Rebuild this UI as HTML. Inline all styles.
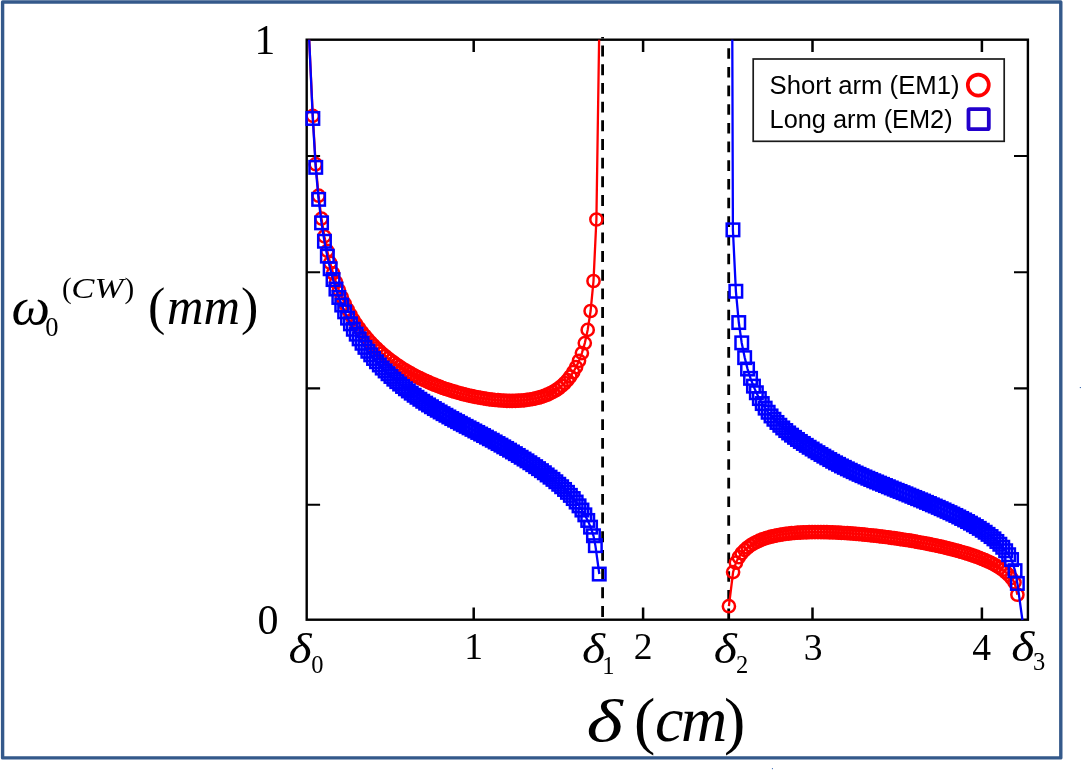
<!DOCTYPE html>
<html lang="en">
<head>
<meta charset="utf-8">
<title>Beam waist vs delta</title>
<style>
html,body{margin:0;padding:0;background:#fff;}
body{width:1081px;height:770px;overflow:hidden;position:relative;}
svg{position:absolute;left:0;top:0;display:block;}
.ser{font-family:"Liberation Serif","DejaVu Serif",serif;fill:#000;}
.it{font-style:italic;}
.san{font-family:"Liberation Sans","DejaVu Sans",sans-serif;fill:#000;}
</style>
</head>
<body>
<svg width="1081" height="770" viewBox="0 0 1081 770">
<defs>
<clipPath id="plot"><rect x="306.7" y="38.5" width="721.2" height="582.4"/></clipPath>
</defs>
<rect x="0" y="0" width="1081" height="770" fill="#ffffff"/>
<!-- outer frame -->
<rect x="2.6" y="2.05" width="1058.2" height="755.85" fill="none" stroke="#34598b" stroke-width="3.4" stroke-linejoin="round"/>
<rect x="1079.8" y="387" width="1.2" height="1.1" fill="#4673b6"/>
<rect x="771.9" y="768.1" width="1.1" height="1.1" fill="#4673b6"/>

<!-- dashed stability limits -->
<g stroke="#000" stroke-width="2.8" fill="none">
<path d="M602.6 37 V38.5 M602.6 45.6 V619.7" stroke-dasharray="10.9 7.78"/>
<path d="M728.7 48.2 V619.7" stroke-dasharray="10.6 8.08"/>
</g>

<!-- axes -->
<rect x="306.7" y="39.7" width="721.2" height="580.0" fill="none" stroke="#000" stroke-width="2.4"/>
<path d="M473.7 619.7 V607.5 M473.7 39.7 V51.9 M643.1 619.7 V607.5 M643.1 39.7 V51.9 M812.5 619.7 V607.5 M812.5 39.7 V51.9 M981.9 619.7 V607.5 M981.9 39.7 V51.9" stroke="#000" stroke-width="2.5" fill="none"/>
<path d="M306.7 504.8 H320.1 M1027.9 504.8 H1014.0 M306.7 388.4 H320.1 M1027.9 388.4 H1014.0 M306.7 272.3 H320.1 M1027.9 272.3 H1014.0 M306.7 156.0 H320.1 M1027.9 156.0 H1014.0" stroke="#000" stroke-width="2.1" fill="none"/>

<!-- data -->
<g clip-path="url(#plot)" fill="none" stroke-width="2.5">
<g stroke="#ff0000">
<path d="M309.2 39.7 L312.8 115.9 L315.7 164.2 L318.6 195.7 L321.5 218.6 L324.4 236.4 L327.3 250.9 L330.2 262.9 L333.1 273.3 L336.0 282.3 L338.9 290.2 L341.8 297.3 L344.7 303.6 L347.6 309.4 L350.5 314.7 L353.3 319.6 L356.2 324.1 L359.1 328.3 L362.0 332.1 L364.9 335.8 L367.8 339.2 L370.7 342.4 L373.6 345.4 L376.5 348.3 L379.4 351.0 L382.3 353.6 L385.2 356.0 L388.1 358.4 L391.0 360.6 L393.9 362.7 L396.7 364.8 L399.6 366.7 L402.5 368.6 L405.4 370.3 L408.3 372.0 L411.2 373.7 L414.1 375.3 L417.0 376.8 L419.9 378.2 L422.8 379.6 L425.7 380.9 L428.6 382.2 L431.5 383.5 L434.4 384.7 L437.3 385.8 L440.1 386.9 L443.0 388.0 L445.9 389.0 L448.8 389.9 L451.7 390.9 L454.6 391.7 L457.5 392.6 L460.4 393.4 L463.3 394.2 L466.2 394.9 L469.1 395.6 L472.0 396.2 L474.9 396.8 L477.8 397.4 L480.7 397.9 L483.5 398.4 L486.4 398.9 L489.3 399.3 L492.2 399.6 L495.1 400.0 L498.0 400.2 L500.9 400.5 L503.8 400.6 L506.7 400.8 L509.6 400.8 L512.5 400.9 L515.4 400.8 L518.3 400.7 L521.2 400.5 L524.1 400.3 L526.9 399.9 L529.8 399.5 L532.7 399.0 L535.6 398.4 L538.5 397.7 L541.4 396.8 L544.3 395.9 L547.2 394.7 L550.1 393.4 L553.0 391.9 L555.9 390.2 L558.8 388.2 L561.7 385.9 L564.6 383.2 L567.5 380.1 L570.3 376.5 L573.2 372.2 L576.1 367.1 L579.0 360.8 L581.9 353.1 L584.8 343.1 L587.7 329.9 L590.6 311.0 L593.5 281.0 L596.4 219.5 L599.1 39.7" stroke-width="2.3"/>
<path d="M728.9 606.2 L733.1 572.1 L735.9 562.7 L738.8 557.2 L741.7 553.2 L744.7 550.1 L747.6 547.5 L750.5 545.4 L753.5 543.5 L756.4 542.0 L759.3 540.6 L762.3 539.4 L765.2 538.4 L768.1 537.5 L771.1 536.7 L774.0 536.0 L776.9 535.4 L779.9 534.8 L782.8 534.3 L785.7 533.9 L788.7 533.6 L791.6 533.2 L794.5 533.0 L797.5 532.7 L800.4 532.6 L803.3 532.4 L806.3 532.3 L809.2 532.2 L812.1 532.1 L815.0 532.1 L818.0 532.1 L820.9 532.1 L823.8 532.2 L826.8 532.2 L829.7 532.3 L832.6 532.4 L835.6 532.5 L838.5 532.7 L841.4 532.8 L844.4 533.0 L847.3 533.2 L850.2 533.4 L853.2 533.6 L856.1 533.9 L859.0 534.1 L862.0 534.4 L864.9 534.7 L867.8 535.0 L870.8 535.3 L873.7 535.6 L876.6 535.9 L879.6 536.3 L882.5 536.6 L885.4 537.0 L888.4 537.4 L891.3 537.8 L894.2 538.2 L897.2 538.6 L900.1 539.1 L903.0 539.5 L906.0 540.0 L908.9 540.4 L911.8 540.9 L914.8 541.4 L917.7 542.0 L920.6 542.5 L923.6 543.0 L926.5 543.6 L929.4 544.2 L932.4 544.8 L935.3 545.4 L938.2 546.0 L941.2 546.7 L944.1 547.4 L947.0 548.1 L950.0 548.8 L952.9 549.6 L955.8 550.3 L958.8 551.1 L961.7 552.0 L964.6 552.8 L967.5 553.7 L970.5 554.7 L973.4 555.7 L976.3 556.7 L979.3 557.8 L982.2 559.0 L985.1 560.2 L988.1 561.5 L991.0 562.9 L993.9 564.4 L996.9 566.1 L999.8 567.9 L1002.7 569.9 L1005.7 572.2 L1008.6 574.9 L1011.5 578.1 L1014.5 582.4 L1017.4 594.7" stroke-width="2.3"/>
<circle cx="312.8" cy="115.9" r="6.1"/>
<circle cx="315.7" cy="164.2" r="6.1"/>
<circle cx="318.6" cy="195.7" r="6.1"/>
<circle cx="321.5" cy="218.6" r="6.1"/>
<circle cx="324.4" cy="236.4" r="6.1"/>
<circle cx="327.3" cy="250.9" r="6.1"/>
<circle cx="330.2" cy="262.9" r="6.1"/>
<circle cx="333.1" cy="273.3" r="6.1"/>
<circle cx="336.0" cy="282.3" r="6.1"/>
<circle cx="338.9" cy="290.2" r="6.1"/>
<circle cx="341.8" cy="297.3" r="6.1"/>
<circle cx="344.7" cy="303.6" r="6.1"/>
<circle cx="347.6" cy="309.4" r="6.1"/>
<circle cx="350.5" cy="314.7" r="6.1"/>
<circle cx="353.3" cy="319.6" r="6.1"/>
<circle cx="356.2" cy="324.1" r="6.1"/>
<circle cx="359.1" cy="328.3" r="6.1"/>
<circle cx="362.0" cy="332.1" r="6.1"/>
<circle cx="364.9" cy="335.8" r="6.1"/>
<circle cx="367.8" cy="339.2" r="6.1"/>
<circle cx="370.7" cy="342.4" r="6.1"/>
<circle cx="373.6" cy="345.4" r="6.1"/>
<circle cx="376.5" cy="348.3" r="6.1"/>
<circle cx="379.4" cy="351.0" r="6.1"/>
<circle cx="382.3" cy="353.6" r="6.1"/>
<circle cx="385.2" cy="356.0" r="6.1"/>
<circle cx="388.1" cy="358.4" r="6.1"/>
<circle cx="391.0" cy="360.6" r="6.1"/>
<circle cx="393.9" cy="362.7" r="6.1"/>
<circle cx="396.7" cy="364.8" r="6.1"/>
<circle cx="399.6" cy="366.7" r="6.1"/>
<circle cx="402.5" cy="368.6" r="6.1"/>
<circle cx="405.4" cy="370.3" r="6.1"/>
<circle cx="408.3" cy="372.0" r="6.1"/>
<circle cx="411.2" cy="373.7" r="6.1"/>
<circle cx="414.1" cy="375.3" r="6.1"/>
<circle cx="417.0" cy="376.8" r="6.1"/>
<circle cx="419.9" cy="378.2" r="6.1"/>
<circle cx="422.8" cy="379.6" r="6.1"/>
<circle cx="425.7" cy="380.9" r="6.1"/>
<circle cx="428.6" cy="382.2" r="6.1"/>
<circle cx="431.5" cy="383.5" r="6.1"/>
<circle cx="434.4" cy="384.7" r="6.1"/>
<circle cx="437.3" cy="385.8" r="6.1"/>
<circle cx="440.1" cy="386.9" r="6.1"/>
<circle cx="443.0" cy="388.0" r="6.1"/>
<circle cx="445.9" cy="389.0" r="6.1"/>
<circle cx="448.8" cy="389.9" r="6.1"/>
<circle cx="451.7" cy="390.9" r="6.1"/>
<circle cx="454.6" cy="391.7" r="6.1"/>
<circle cx="457.5" cy="392.6" r="6.1"/>
<circle cx="460.4" cy="393.4" r="6.1"/>
<circle cx="463.3" cy="394.2" r="6.1"/>
<circle cx="466.2" cy="394.9" r="6.1"/>
<circle cx="469.1" cy="395.6" r="6.1"/>
<circle cx="472.0" cy="396.2" r="6.1"/>
<circle cx="474.9" cy="396.8" r="6.1"/>
<circle cx="477.8" cy="397.4" r="6.1"/>
<circle cx="480.7" cy="397.9" r="6.1"/>
<circle cx="483.5" cy="398.4" r="6.1"/>
<circle cx="486.4" cy="398.9" r="6.1"/>
<circle cx="489.3" cy="399.3" r="6.1"/>
<circle cx="492.2" cy="399.6" r="6.1"/>
<circle cx="495.1" cy="400.0" r="6.1"/>
<circle cx="498.0" cy="400.2" r="6.1"/>
<circle cx="500.9" cy="400.5" r="6.1"/>
<circle cx="503.8" cy="400.6" r="6.1"/>
<circle cx="506.7" cy="400.8" r="6.1"/>
<circle cx="509.6" cy="400.8" r="6.1"/>
<circle cx="512.5" cy="400.9" r="6.1"/>
<circle cx="515.4" cy="400.8" r="6.1"/>
<circle cx="518.3" cy="400.7" r="6.1"/>
<circle cx="521.2" cy="400.5" r="6.1"/>
<circle cx="524.1" cy="400.3" r="6.1"/>
<circle cx="526.9" cy="399.9" r="6.1"/>
<circle cx="529.8" cy="399.5" r="6.1"/>
<circle cx="532.7" cy="399.0" r="6.1"/>
<circle cx="535.6" cy="398.4" r="6.1"/>
<circle cx="538.5" cy="397.7" r="6.1"/>
<circle cx="541.4" cy="396.8" r="6.1"/>
<circle cx="544.3" cy="395.9" r="6.1"/>
<circle cx="547.2" cy="394.7" r="6.1"/>
<circle cx="550.1" cy="393.4" r="6.1"/>
<circle cx="553.0" cy="391.9" r="6.1"/>
<circle cx="555.9" cy="390.2" r="6.1"/>
<circle cx="558.8" cy="388.2" r="6.1"/>
<circle cx="561.7" cy="385.9" r="6.1"/>
<circle cx="564.6" cy="383.2" r="6.1"/>
<circle cx="567.5" cy="380.1" r="6.1"/>
<circle cx="570.3" cy="376.5" r="6.1"/>
<circle cx="573.2" cy="372.2" r="6.1"/>
<circle cx="576.1" cy="367.1" r="6.1"/>
<circle cx="579.0" cy="360.8" r="6.1"/>
<circle cx="581.9" cy="353.1" r="6.1"/>
<circle cx="584.8" cy="343.1" r="6.1"/>
<circle cx="587.7" cy="329.9" r="6.1"/>
<circle cx="590.6" cy="311.0" r="6.1"/>
<circle cx="593.5" cy="281.0" r="6.1"/>
<circle cx="596.4" cy="219.5" r="6.1"/>
<circle cx="728.9" cy="606.2" r="6.1"/>
<circle cx="733.1" cy="572.1" r="6.1"/>
<circle cx="735.9" cy="562.7" r="6.1"/>
<circle cx="738.8" cy="557.2" r="6.1"/>
<circle cx="741.7" cy="553.2" r="6.1"/>
<circle cx="744.7" cy="550.1" r="6.1"/>
<circle cx="747.6" cy="547.5" r="6.1"/>
<circle cx="750.5" cy="545.4" r="6.1"/>
<circle cx="753.5" cy="543.5" r="6.1"/>
<circle cx="756.4" cy="542.0" r="6.1"/>
<circle cx="759.3" cy="540.6" r="6.1"/>
<circle cx="762.3" cy="539.4" r="6.1"/>
<circle cx="765.2" cy="538.4" r="6.1"/>
<circle cx="768.1" cy="537.5" r="6.1"/>
<circle cx="771.1" cy="536.7" r="6.1"/>
<circle cx="774.0" cy="536.0" r="6.1"/>
<circle cx="776.9" cy="535.4" r="6.1"/>
<circle cx="779.9" cy="534.8" r="6.1"/>
<circle cx="782.8" cy="534.3" r="6.1"/>
<circle cx="785.7" cy="533.9" r="6.1"/>
<circle cx="788.7" cy="533.6" r="6.1"/>
<circle cx="791.6" cy="533.2" r="6.1"/>
<circle cx="794.5" cy="533.0" r="6.1"/>
<circle cx="797.5" cy="532.7" r="6.1"/>
<circle cx="800.4" cy="532.6" r="6.1"/>
<circle cx="803.3" cy="532.4" r="6.1"/>
<circle cx="806.3" cy="532.3" r="6.1"/>
<circle cx="809.2" cy="532.2" r="6.1"/>
<circle cx="812.1" cy="532.1" r="6.1"/>
<circle cx="815.0" cy="532.1" r="6.1"/>
<circle cx="818.0" cy="532.1" r="6.1"/>
<circle cx="820.9" cy="532.1" r="6.1"/>
<circle cx="823.8" cy="532.2" r="6.1"/>
<circle cx="826.8" cy="532.2" r="6.1"/>
<circle cx="829.7" cy="532.3" r="6.1"/>
<circle cx="832.6" cy="532.4" r="6.1"/>
<circle cx="835.6" cy="532.5" r="6.1"/>
<circle cx="838.5" cy="532.7" r="6.1"/>
<circle cx="841.4" cy="532.8" r="6.1"/>
<circle cx="844.4" cy="533.0" r="6.1"/>
<circle cx="847.3" cy="533.2" r="6.1"/>
<circle cx="850.2" cy="533.4" r="6.1"/>
<circle cx="853.2" cy="533.6" r="6.1"/>
<circle cx="856.1" cy="533.9" r="6.1"/>
<circle cx="859.0" cy="534.1" r="6.1"/>
<circle cx="862.0" cy="534.4" r="6.1"/>
<circle cx="864.9" cy="534.7" r="6.1"/>
<circle cx="867.8" cy="535.0" r="6.1"/>
<circle cx="870.8" cy="535.3" r="6.1"/>
<circle cx="873.7" cy="535.6" r="6.1"/>
<circle cx="876.6" cy="535.9" r="6.1"/>
<circle cx="879.6" cy="536.3" r="6.1"/>
<circle cx="882.5" cy="536.6" r="6.1"/>
<circle cx="885.4" cy="537.0" r="6.1"/>
<circle cx="888.4" cy="537.4" r="6.1"/>
<circle cx="891.3" cy="537.8" r="6.1"/>
<circle cx="894.2" cy="538.2" r="6.1"/>
<circle cx="897.2" cy="538.6" r="6.1"/>
<circle cx="900.1" cy="539.1" r="6.1"/>
<circle cx="903.0" cy="539.5" r="6.1"/>
<circle cx="906.0" cy="540.0" r="6.1"/>
<circle cx="908.9" cy="540.4" r="6.1"/>
<circle cx="911.8" cy="540.9" r="6.1"/>
<circle cx="914.8" cy="541.4" r="6.1"/>
<circle cx="917.7" cy="542.0" r="6.1"/>
<circle cx="920.6" cy="542.5" r="6.1"/>
<circle cx="923.6" cy="543.0" r="6.1"/>
<circle cx="926.5" cy="543.6" r="6.1"/>
<circle cx="929.4" cy="544.2" r="6.1"/>
<circle cx="932.4" cy="544.8" r="6.1"/>
<circle cx="935.3" cy="545.4" r="6.1"/>
<circle cx="938.2" cy="546.0" r="6.1"/>
<circle cx="941.2" cy="546.7" r="6.1"/>
<circle cx="944.1" cy="547.4" r="6.1"/>
<circle cx="947.0" cy="548.1" r="6.1"/>
<circle cx="950.0" cy="548.8" r="6.1"/>
<circle cx="952.9" cy="549.6" r="6.1"/>
<circle cx="955.8" cy="550.3" r="6.1"/>
<circle cx="958.8" cy="551.1" r="6.1"/>
<circle cx="961.7" cy="552.0" r="6.1"/>
<circle cx="964.6" cy="552.8" r="6.1"/>
<circle cx="967.5" cy="553.7" r="6.1"/>
<circle cx="970.5" cy="554.7" r="6.1"/>
<circle cx="973.4" cy="555.7" r="6.1"/>
<circle cx="976.3" cy="556.7" r="6.1"/>
<circle cx="979.3" cy="557.8" r="6.1"/>
<circle cx="982.2" cy="559.0" r="6.1"/>
<circle cx="985.1" cy="560.2" r="6.1"/>
<circle cx="988.1" cy="561.5" r="6.1"/>
<circle cx="991.0" cy="562.9" r="6.1"/>
<circle cx="993.9" cy="564.4" r="6.1"/>
<circle cx="996.9" cy="566.1" r="6.1"/>
<circle cx="999.8" cy="567.9" r="6.1"/>
<circle cx="1002.7" cy="569.9" r="6.1"/>
<circle cx="1005.7" cy="572.2" r="6.1"/>
<circle cx="1008.6" cy="574.9" r="6.1"/>
<circle cx="1011.5" cy="578.1" r="6.1"/>
<circle cx="1014.5" cy="582.4" r="6.1"/>
<circle cx="1017.4" cy="594.7" r="6.1"/>
</g>
<g stroke="#0000ff">
<path d="M309.2 39.7 L312.8 118.5 L315.7 167.3 L318.6 199.4 L321.5 222.9 L324.4 241.2 L327.3 256.2 L330.2 268.8 L333.1 279.6 L336.0 289.1 L338.9 297.5 L341.8 305.0 L344.7 311.9 L347.6 318.1 L350.5 323.9 L353.3 329.2 L356.2 334.2 L359.1 338.8 L362.0 343.2 L364.9 347.3 L367.8 351.2 L370.7 354.9 L373.6 358.4 L376.5 361.7 L379.4 364.9 L382.3 368.0 L385.2 370.9 L388.1 373.8 L391.0 376.5 L393.9 379.1 L396.7 381.6 L399.6 384.1 L402.5 386.5 L405.4 388.8 L408.3 391.0 L411.2 393.1 L414.1 395.2 L417.0 397.3 L419.9 399.3 L422.8 401.2 L425.7 403.1 L428.6 405.0 L431.5 406.8 L434.4 408.5 L437.3 410.3 L440.1 412.0 L443.0 413.6 L445.9 415.3 L448.8 416.9 L451.7 418.5 L454.6 420.1 L457.5 421.7 L460.4 423.2 L463.3 424.8 L466.2 426.3 L469.1 427.9 L472.0 429.4 L474.9 430.9 L477.8 432.5 L480.7 434.0 L483.5 435.6 L486.4 437.1 L489.3 438.7 L492.2 440.3 L495.1 441.9 L498.0 443.5 L500.9 445.2 L503.8 446.8 L506.7 448.5 L509.6 450.2 L512.5 451.9 L515.4 453.6 L518.3 455.4 L521.2 457.2 L524.1 459.0 L526.9 460.9 L529.8 462.8 L532.7 464.7 L535.6 466.6 L538.5 468.6 L541.4 470.7 L544.3 472.8 L547.2 474.9 L550.1 477.1 L553.0 479.4 L555.9 481.8 L558.8 484.2 L561.7 486.8 L564.6 489.5 L567.5 492.3 L570.3 495.3 L573.2 498.6 L576.1 502.0 L579.0 505.9 L581.9 510.1 L584.8 514.9 L587.7 520.4 L590.6 527.1 L593.5 535.8 L595.4 545.6 L599.3 574.0" stroke-width="2.3"/>
<path d="M732.3 39.7 L732.9 229.8 L735.9 291.3 L738.8 322.5 L741.7 342.9 L744.7 357.6 L747.6 369.1 L750.5 378.4 L753.5 386.1 L756.4 392.8 L759.3 398.5 L762.3 403.6 L765.2 408.1 L768.1 412.2 L771.1 415.9 L774.0 419.3 L776.9 422.4 L779.9 425.3 L782.8 428.0 L785.7 430.5 L788.7 432.9 L791.6 435.2 L794.5 437.3 L797.5 439.4 L800.4 441.5 L803.3 443.4 L806.3 445.3 L809.2 447.2 L812.1 449.1 L815.0 450.9 L818.0 452.7 L820.9 454.5 L823.8 456.2 L826.8 457.9 L829.7 459.6 L832.6 461.2 L835.6 462.8 L838.5 464.4 L841.4 465.9 L844.4 467.4 L847.3 468.9 L850.2 470.3 L853.2 471.7 L856.1 473.0 L859.0 474.4 L862.0 475.7 L864.9 477.0 L867.8 478.2 L870.8 479.5 L873.7 480.7 L876.6 481.9 L879.6 483.2 L882.5 484.4 L885.4 485.6 L888.4 486.8 L891.3 487.9 L894.2 489.1 L897.2 490.3 L900.1 491.5 L903.0 492.7 L906.0 493.9 L908.9 495.1 L911.8 496.2 L914.8 497.4 L917.7 498.6 L920.6 499.9 L923.6 501.1 L926.5 502.3 L929.4 503.6 L932.4 504.8 L935.3 506.1 L938.2 507.4 L941.2 508.7 L944.1 510.0 L947.0 511.3 L950.0 512.7 L952.9 514.1 L955.8 515.5 L958.8 516.9 L961.7 518.4 L964.6 520.0 L967.5 521.5 L970.5 523.1 L973.4 524.8 L976.3 526.6 L979.3 528.4 L982.2 530.2 L985.1 532.2 L988.1 534.3 L991.0 536.5 L993.9 538.9 L996.9 541.4 L999.8 544.2 L1002.7 547.3 L1005.7 550.7 L1008.6 554.7 L1011.5 559.6 L1015.0 570.6 L1017.4 583.5 L1022.4 620.0" stroke-width="2.3"/>
</g>
</g>
<g fill="none" stroke-width="2.5" stroke="#0000ff">
<rect x="306.6" y="112.2" width="12.5" height="12.5"/>
<rect x="309.5" y="161.1" width="12.5" height="12.5"/>
<rect x="312.4" y="193.1" width="12.5" height="12.5"/>
<rect x="315.3" y="216.6" width="12.5" height="12.5"/>
<rect x="318.2" y="235.0" width="12.5" height="12.5"/>
<rect x="321.1" y="249.9" width="12.5" height="12.5"/>
<rect x="323.9" y="262.5" width="12.5" height="12.5"/>
<rect x="326.8" y="273.3" width="12.5" height="12.5"/>
<rect x="329.7" y="282.8" width="12.5" height="12.5"/>
<rect x="332.6" y="291.2" width="12.5" height="12.5"/>
<rect x="335.5" y="298.8" width="12.5" height="12.5"/>
<rect x="338.4" y="305.6" width="12.5" height="12.5"/>
<rect x="341.3" y="311.9" width="12.5" height="12.5"/>
<rect x="344.2" y="317.6" width="12.5" height="12.5"/>
<rect x="347.1" y="323.0" width="12.5" height="12.5"/>
<rect x="350.0" y="327.9" width="12.5" height="12.5"/>
<rect x="352.9" y="332.6" width="12.5" height="12.5"/>
<rect x="355.8" y="337.0" width="12.5" height="12.5"/>
<rect x="358.7" y="341.1" width="12.5" height="12.5"/>
<rect x="361.6" y="345.0" width="12.5" height="12.5"/>
<rect x="364.5" y="348.6" width="12.5" height="12.5"/>
<rect x="367.3" y="352.2" width="12.5" height="12.5"/>
<rect x="370.2" y="355.5" width="12.5" height="12.5"/>
<rect x="373.1" y="358.7" width="12.5" height="12.5"/>
<rect x="376.0" y="361.8" width="12.5" height="12.5"/>
<rect x="378.9" y="364.7" width="12.5" height="12.5"/>
<rect x="381.8" y="367.5" width="12.5" height="12.5"/>
<rect x="384.7" y="370.2" width="12.5" height="12.5"/>
<rect x="387.6" y="372.9" width="12.5" height="12.5"/>
<rect x="390.5" y="375.4" width="12.5" height="12.5"/>
<rect x="393.4" y="377.8" width="12.5" height="12.5"/>
<rect x="396.3" y="380.2" width="12.5" height="12.5"/>
<rect x="399.2" y="382.5" width="12.5" height="12.5"/>
<rect x="402.1" y="384.7" width="12.5" height="12.5"/>
<rect x="405.0" y="386.9" width="12.5" height="12.5"/>
<rect x="407.9" y="389.0" width="12.5" height="12.5"/>
<rect x="410.7" y="391.0" width="12.5" height="12.5"/>
<rect x="413.6" y="393.0" width="12.5" height="12.5"/>
<rect x="416.5" y="395.0" width="12.5" height="12.5"/>
<rect x="419.4" y="396.9" width="12.5" height="12.5"/>
<rect x="422.3" y="398.7" width="12.5" height="12.5"/>
<rect x="425.2" y="400.5" width="12.5" height="12.5"/>
<rect x="428.1" y="402.3" width="12.5" height="12.5"/>
<rect x="431.0" y="404.0" width="12.5" height="12.5"/>
<rect x="433.9" y="405.7" width="12.5" height="12.5"/>
<rect x="436.8" y="407.4" width="12.5" height="12.5"/>
<rect x="439.7" y="409.0" width="12.5" height="12.5"/>
<rect x="442.6" y="410.7" width="12.5" height="12.5"/>
<rect x="445.5" y="412.3" width="12.5" height="12.5"/>
<rect x="448.4" y="413.9" width="12.5" height="12.5"/>
<rect x="451.3" y="415.4" width="12.5" height="12.5"/>
<rect x="454.1" y="417.0" width="12.5" height="12.5"/>
<rect x="457.0" y="418.5" width="12.5" height="12.5"/>
<rect x="459.9" y="420.1" width="12.5" height="12.5"/>
<rect x="462.8" y="421.6" width="12.5" height="12.5"/>
<rect x="465.7" y="423.1" width="12.5" height="12.5"/>
<rect x="468.6" y="424.7" width="12.5" height="12.5"/>
<rect x="471.5" y="426.2" width="12.5" height="12.5"/>
<rect x="474.4" y="427.8" width="12.5" height="12.5"/>
<rect x="477.3" y="429.3" width="12.5" height="12.5"/>
<rect x="480.2" y="430.9" width="12.5" height="12.5"/>
<rect x="483.1" y="432.5" width="12.5" height="12.5"/>
<rect x="486.0" y="434.0" width="12.5" height="12.5"/>
<rect x="488.9" y="435.7" width="12.5" height="12.5"/>
<rect x="491.8" y="437.3" width="12.5" height="12.5"/>
<rect x="494.7" y="438.9" width="12.5" height="12.5"/>
<rect x="497.5" y="440.6" width="12.5" height="12.5"/>
<rect x="500.4" y="442.2" width="12.5" height="12.5"/>
<rect x="503.3" y="443.9" width="12.5" height="12.5"/>
<rect x="506.2" y="445.7" width="12.5" height="12.5"/>
<rect x="509.1" y="447.4" width="12.5" height="12.5"/>
<rect x="512.0" y="449.2" width="12.5" height="12.5"/>
<rect x="514.9" y="451.0" width="12.5" height="12.5"/>
<rect x="517.8" y="452.8" width="12.5" height="12.5"/>
<rect x="520.7" y="454.6" width="12.5" height="12.5"/>
<rect x="523.6" y="456.5" width="12.5" height="12.5"/>
<rect x="526.5" y="458.4" width="12.5" height="12.5"/>
<rect x="529.4" y="460.4" width="12.5" height="12.5"/>
<rect x="532.3" y="462.4" width="12.5" height="12.5"/>
<rect x="535.2" y="464.4" width="12.5" height="12.5"/>
<rect x="538.1" y="466.5" width="12.5" height="12.5"/>
<rect x="540.9" y="468.7" width="12.5" height="12.5"/>
<rect x="543.8" y="470.9" width="12.5" height="12.5"/>
<rect x="546.7" y="473.1" width="12.5" height="12.5"/>
<rect x="549.6" y="475.5" width="12.5" height="12.5"/>
<rect x="552.5" y="478.0" width="12.5" height="12.5"/>
<rect x="555.4" y="480.5" width="12.5" height="12.5"/>
<rect x="558.3" y="483.2" width="12.5" height="12.5"/>
<rect x="561.2" y="486.1" width="12.5" height="12.5"/>
<rect x="564.1" y="489.1" width="12.5" height="12.5"/>
<rect x="567.0" y="492.3" width="12.5" height="12.5"/>
<rect x="569.9" y="495.8" width="12.5" height="12.5"/>
<rect x="572.8" y="499.6" width="12.5" height="12.5"/>
<rect x="575.7" y="503.8" width="12.5" height="12.5"/>
<rect x="578.6" y="508.6" width="12.5" height="12.5"/>
<rect x="581.5" y="514.2" width="12.5" height="12.5"/>
<rect x="584.3" y="520.9" width="12.5" height="12.5"/>
<rect x="587.2" y="529.5" width="12.5" height="12.5"/>
<rect x="589.1" y="539.4" width="12.5" height="12.5"/>
<rect x="593.0" y="567.8" width="12.5" height="12.5"/>
<rect x="726.7" y="223.6" width="12.5" height="12.5"/>
<rect x="729.6" y="285.0" width="12.5" height="12.5"/>
<rect x="732.5" y="316.3" width="12.5" height="12.5"/>
<rect x="735.5" y="336.6" width="12.5" height="12.5"/>
<rect x="738.4" y="351.4" width="12.5" height="12.5"/>
<rect x="741.3" y="362.8" width="12.5" height="12.5"/>
<rect x="744.3" y="372.1" width="12.5" height="12.5"/>
<rect x="747.2" y="379.9" width="12.5" height="12.5"/>
<rect x="750.1" y="386.5" width="12.5" height="12.5"/>
<rect x="753.1" y="392.3" width="12.5" height="12.5"/>
<rect x="756.0" y="397.3" width="12.5" height="12.5"/>
<rect x="758.9" y="401.9" width="12.5" height="12.5"/>
<rect x="761.9" y="406.0" width="12.5" height="12.5"/>
<rect x="764.8" y="409.7" width="12.5" height="12.5"/>
<rect x="767.7" y="413.0" width="12.5" height="12.5"/>
<rect x="770.7" y="416.2" width="12.5" height="12.5"/>
<rect x="773.6" y="419.0" width="12.5" height="12.5"/>
<rect x="776.5" y="421.7" width="12.5" height="12.5"/>
<rect x="779.5" y="424.3" width="12.5" height="12.5"/>
<rect x="782.4" y="426.7" width="12.5" height="12.5"/>
<rect x="785.3" y="428.9" width="12.5" height="12.5"/>
<rect x="788.3" y="431.1" width="12.5" height="12.5"/>
<rect x="791.2" y="433.2" width="12.5" height="12.5"/>
<rect x="794.1" y="435.2" width="12.5" height="12.5"/>
<rect x="797.1" y="437.2" width="12.5" height="12.5"/>
<rect x="800.0" y="439.1" width="12.5" height="12.5"/>
<rect x="802.9" y="441.0" width="12.5" height="12.5"/>
<rect x="805.9" y="442.8" width="12.5" height="12.5"/>
<rect x="808.8" y="444.7" width="12.5" height="12.5"/>
<rect x="811.7" y="446.4" width="12.5" height="12.5"/>
<rect x="814.7" y="448.2" width="12.5" height="12.5"/>
<rect x="817.6" y="449.9" width="12.5" height="12.5"/>
<rect x="820.5" y="451.6" width="12.5" height="12.5"/>
<rect x="823.5" y="453.3" width="12.5" height="12.5"/>
<rect x="826.4" y="455.0" width="12.5" height="12.5"/>
<rect x="829.3" y="456.6" width="12.5" height="12.5"/>
<rect x="832.3" y="458.1" width="12.5" height="12.5"/>
<rect x="835.2" y="459.7" width="12.5" height="12.5"/>
<rect x="838.1" y="461.1" width="12.5" height="12.5"/>
<rect x="841.1" y="462.6" width="12.5" height="12.5"/>
<rect x="844.0" y="464.0" width="12.5" height="12.5"/>
<rect x="846.9" y="465.4" width="12.5" height="12.5"/>
<rect x="849.9" y="466.8" width="12.5" height="12.5"/>
<rect x="852.8" y="468.1" width="12.5" height="12.5"/>
<rect x="855.7" y="469.4" width="12.5" height="12.5"/>
<rect x="858.7" y="470.7" width="12.5" height="12.5"/>
<rect x="861.6" y="472.0" width="12.5" height="12.5"/>
<rect x="864.5" y="473.2" width="12.5" height="12.5"/>
<rect x="867.5" y="474.5" width="12.5" height="12.5"/>
<rect x="870.4" y="475.7" width="12.5" height="12.5"/>
<rect x="873.3" y="476.9" width="12.5" height="12.5"/>
<rect x="876.3" y="478.1" width="12.5" height="12.5"/>
<rect x="879.2" y="479.3" width="12.5" height="12.5"/>
<rect x="882.1" y="480.5" width="12.5" height="12.5"/>
<rect x="885.0" y="481.7" width="12.5" height="12.5"/>
<rect x="888.0" y="482.9" width="12.5" height="12.5"/>
<rect x="890.9" y="484.1" width="12.5" height="12.5"/>
<rect x="893.8" y="485.2" width="12.5" height="12.5"/>
<rect x="896.8" y="486.4" width="12.5" height="12.5"/>
<rect x="899.7" y="487.6" width="12.5" height="12.5"/>
<rect x="902.6" y="488.8" width="12.5" height="12.5"/>
<rect x="905.6" y="490.0" width="12.5" height="12.5"/>
<rect x="908.5" y="491.2" width="12.5" height="12.5"/>
<rect x="911.4" y="492.4" width="12.5" height="12.5"/>
<rect x="914.4" y="493.6" width="12.5" height="12.5"/>
<rect x="917.3" y="494.8" width="12.5" height="12.5"/>
<rect x="920.2" y="496.1" width="12.5" height="12.5"/>
<rect x="923.2" y="497.3" width="12.5" height="12.5"/>
<rect x="926.1" y="498.6" width="12.5" height="12.5"/>
<rect x="929.0" y="499.8" width="12.5" height="12.5"/>
<rect x="932.0" y="501.1" width="12.5" height="12.5"/>
<rect x="934.9" y="502.4" width="12.5" height="12.5"/>
<rect x="937.8" y="503.7" width="12.5" height="12.5"/>
<rect x="940.8" y="505.1" width="12.5" height="12.5"/>
<rect x="943.7" y="506.4" width="12.5" height="12.5"/>
<rect x="946.6" y="507.8" width="12.5" height="12.5"/>
<rect x="949.6" y="509.2" width="12.5" height="12.5"/>
<rect x="952.5" y="510.7" width="12.5" height="12.5"/>
<rect x="955.4" y="512.2" width="12.5" height="12.5"/>
<rect x="958.4" y="513.7" width="12.5" height="12.5"/>
<rect x="961.3" y="515.3" width="12.5" height="12.5"/>
<rect x="964.2" y="516.9" width="12.5" height="12.5"/>
<rect x="967.2" y="518.6" width="12.5" height="12.5"/>
<rect x="970.1" y="520.3" width="12.5" height="12.5"/>
<rect x="973.0" y="522.1" width="12.5" height="12.5"/>
<rect x="976.0" y="524.0" width="12.5" height="12.5"/>
<rect x="978.9" y="526.0" width="12.5" height="12.5"/>
<rect x="981.8" y="528.1" width="12.5" height="12.5"/>
<rect x="984.8" y="530.3" width="12.5" height="12.5"/>
<rect x="987.7" y="532.6" width="12.5" height="12.5"/>
<rect x="990.6" y="535.2" width="12.5" height="12.5"/>
<rect x="993.6" y="538.0" width="12.5" height="12.5"/>
<rect x="996.5" y="541.0" width="12.5" height="12.5"/>
<rect x="999.4" y="544.5" width="12.5" height="12.5"/>
<rect x="1002.4" y="548.5" width="12.5" height="12.5"/>
<rect x="1005.3" y="553.3" width="12.5" height="12.5"/>
<rect x="1008.8" y="564.4" width="12.5" height="12.5"/>
<rect x="1011.1" y="577.2" width="12.5" height="12.5"/>
</g>

<!-- legend -->
<rect x="753.2" y="59" width="251" height="82.3" fill="#fff" stroke="#1a1a1a" stroke-width="1.7"/>
<text class="san" x="769.6" y="94.2" font-size="26" textLength="190" lengthAdjust="spacingAndGlyphs">Short arm (EM1)</text>
<text class="san" x="769.6" y="128.4" font-size="26" textLength="183" lengthAdjust="spacingAndGlyphs">Long arm (EM2)</text>
<circle cx="978.3" cy="85.1" r="10.5" fill="none" stroke="#ff0000" stroke-width="3.7"/>
<rect x="968.5" y="109.1" width="20.3" height="20" rx="1.2" fill="none" stroke="#2200cc" stroke-width="3.8"/>

<!-- y tick labels -->
<text class="ser" x="254.4" y="54" font-size="41.5">1</text>
<text class="ser" x="257.5" y="633.6" font-size="42">0</text>

<!-- x tick labels -->
<g class="ser" font-size="37.6" text-anchor="middle">
<text x="473.6" y="659">1</text>
<text x="643.2" y="659">2</text>
<text x="813.2" y="660.2">3</text>
<text x="981.6" y="660">4</text>
</g>

<!-- delta labels -->
<g class="ser">
<text class="it" transform="translate(288.6 662.6) scale(1.18 1)" font-size="42">δ</text><text x="311.2" y="673.1" font-size="24.5">0</text>
<text class="it" transform="translate(582.1 663.4) scale(1.18 1)" font-size="42">δ</text><text x="602.2" y="673.7" font-size="24.5">1</text>
<text class="it" transform="translate(713.8 663.4) scale(1.18 1)" font-size="42">δ</text><text x="736" y="673" font-size="24.5">2</text>
<text class="it" transform="translate(1011.3 660.8) scale(1.18 1)" font-size="42">δ</text><text x="1033" y="670.3" font-size="24.5">3</text>
</g>

<!-- x axis title -->
<g class="ser" font-size="64">
<text class="it" transform="translate(586.6 741.2) scale(1.31 1)" font-size="59.5">δ</text>
<text x="634" y="742">(</text>
<text class="it" x="655" y="741">c</text>
<text class="it" x="681" y="741">m</text>
<text x="724" y="742">)</text>
</g>

<!-- y axis title -->
<g class="ser">
<text class="it" transform="translate(11.4 324) scale(1.05 1)" font-size="52">ω</text>
<text x="45.2" y="336.2" font-size="26.5">0</text>
<text x="62" y="298" font-size="29">(</text>
<text class="it" x="71.3" y="298" font-size="30" textLength="52" lengthAdjust="spacingAndGlyphs">CW</text>
<text x="124.5" y="298" font-size="29">)</text>
<text x="148" y="324" font-size="52">(</text>
<text class="it" x="167" y="324" font-size="52" textLength="73" lengthAdjust="spacingAndGlyphs">mm</text>
<text x="241" y="324" font-size="52">)</text>
</g>
</svg>
</body>
</html>
